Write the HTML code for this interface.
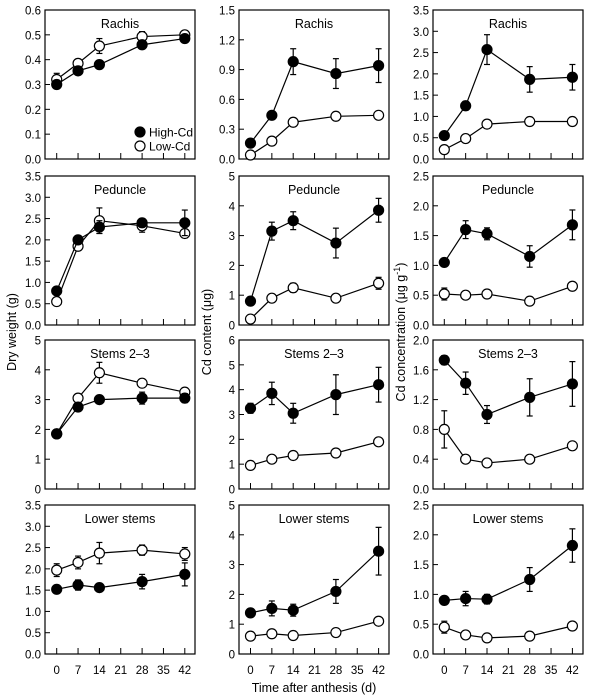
<!DOCTYPE html>
<html><head><meta charset="utf-8"><style>
body{margin:0;background:#fff}
svg{display:block;font-family:"Liberation Sans",Arial,sans-serif}
</style></head><body>
<svg id="c" width="600" height="700" viewBox="0 0 600 700" xmlns="http://www.w3.org/2000/svg"></svg>
<script>
const days=[0,7,14,28,42];
const xTicks=[0,7,14,21,28,35,42];
const panelTitles=[["Rachis","Rachis","Rachis"],["Peduncle","Peduncle","Peduncle"],["Stems 2–3","Stems 2–3","Stems 2–3"],["Lower stems","Lower stems","Lower stems"]];
const yMax=[[0.6,1.5,3.5],[3.5,5,2.5],[5,6,2.0],[3.5,5,2.5]];
const yStep=[[0.1,0.3,0.5],[0.5,1,0.5],[1,1,0.4],[0.5,1,0.5]];
const yDec=[[1,1,1],[1,0,1],[0,0,1],[1,0,1]];
// High-Cd means / errors
const highVals=[
 [[.30,.355,.38,.46,.485],[.16,.44,.98,.86,.94],[.55,1.25,2.57,1.87,1.92]],
 [[.8,2.0,2.3,2.4,2.4],[.8,3.15,3.5,2.75,3.85],[1.05,1.6,1.53,1.15,1.68]],
 [[1.85,2.75,3.0,3.05,3.05],[3.25,3.85,3.05,3.8,4.2],[1.73,1.42,1.0,1.23,1.41]],
 [[1.52,1.62,1.56,1.7,1.87],[1.38,1.53,1.47,2.1,3.45],[.9,.93,.92,1.25,1.82]]];
const highErr=[
 [[.01,.01,.01,.015,.01],[.02,.04,.13,.15,.17],[.05,.1,.35,.3,.3]],
 [[.05,.05,.15,.1,.3],[.05,.3,.3,.5,.4],[.03,.15,.1,.18,.25]],
 [[.1,.1,.05,.2,.15],[.2,.45,.4,.8,.7],[.06,.15,.12,.25,.3]],
 [[.05,.12,.08,.17,.27],[.1,.25,.2,.4,.8],[.04,.12,.08,.2,.28]]];
const lowVals=[
 [[.32,.385,.455,.493,.50],[.04,.18,.37,.43,.44],[.22,.48,.82,.88,.88]],
 [[.55,1.85,2.45,2.33,2.15],[.2,.9,1.25,.9,1.4],[.52,.5,.52,.4,.65]],
 [[1.85,3.05,3.9,3.55,3.25],[.95,1.2,1.35,1.45,1.9],[.8,.4,.35,.4,.58]],
 [[1.97,2.15,2.37,2.44,2.35],[.6,.68,.62,.72,1.1],[.45,.32,.27,.3,.47]]];
const lowErr=[
 [[.025,.01,.03,.02,.01],[.01,.01,.01,.03,.02],[.08,.03,.02,.06,.03]],
 [[.05,.05,.3,.15,.1],[.05,.05,.15,.05,.2],[.1,.05,.03,.03,.07]],
 [[.1,.1,.35,.1,.1],[.05,.05,.05,.15,.15],[.25,.03,.02,.04,.05]],
 [[.15,.15,.25,.12,.15],[.05,.08,.05,.05,.05],[.1,.04,.02,.02,.03]]];

const NS="http://www.w3.org/2000/svg";
const svg=document.getElementById('c');
function mk(t,a,p){const e=document.createElementNS(NS,t);for(const k in a)e.setAttribute(k,a[k]);(p||svg).appendChild(e);return e;}
const colL=[45,239,433], colW=150, col0=[56.7,250.5,444.3], pxDay=3.05;
const rowT=[10,176,340,505], rowH=149;
for(let r=0;r<4;r++)for(let c=0;c<3;c++){
 const g=mk('g',{});
 
 
 const L=colL[c],T=rowT[r],B=T+rowH;
 const xs=d=>col0[c]+d*pxDay;
 const ys=v=>B-v/yMax[r][c]*rowH;
 const fr=mk('rect',{x:L,y:T,width:colW,height:rowH,fill:'none',stroke:'#000','stroke-width':1.2},g);
 
 
 const n=Math.round(yMax[r][c]/yStep[r][c]);
 for(let i=0;i<=n;i++){const v=i*yStep[r][c],y=ys(v);
  mk('line',{x1:L,x2:L+5,y1:y,y2:y,stroke:'#000','stroke-width':1},g);
  const t=mk('text',{x:L-4,y:y+4.5,'text-anchor':'end','font-size':11.5,fill:'#000'},g);
  t.textContent=v.toFixed(yDec[r][c]);
  
  }
 xTicks.forEach(d=>{const x=xs(d);
  mk('line',{x1:x,x2:x,y1:B,y2:B-6,stroke:'#000','stroke-width':1},g);
  if(r==3){const t=mk('text',{x:x,y:B+20,'text-anchor':'middle','font-size':11.5},g);t.textContent=d;
   
   }});
 const tt=mk('text',{x:L+colW/2,y:T+18,'text-anchor':'middle','font-size':12.5},g);
 tt.textContent=panelTitles[r][c];
 
 
 [[lowVals,lowErr,'#fff','low'],[highVals,highErr,'#000','high']].forEach(([V,E,f,nm])=>{
  const vals=V[r][c],errs=E[r][c];
  const pl=mk('polyline',{points:days.map((d,i)=>xs(d)+','+ys(vals[i])).join(' '),fill:'none',stroke:'#000','stroke-width':1.2},g);
  
  
  days.forEach((d,i)=>{const x=xs(d),y1=ys(vals[i]+errs[i]),y2=ys(vals[i]-errs[i]);
   mk('line',{x1:x,x2:x,y1:y1,y2:y2,stroke:'#000','stroke-width':1.2},g);
   mk('line',{x1:x-3,x2:x+3,y1:y1,y2:y1,stroke:'#000','stroke-width':1.2},g);
   mk('line',{x1:x-3,x2:x+3,y1:y2,y2:y2,stroke:'#000','stroke-width':1.2},g);
   const p=mk('circle',{cx:x,cy:ys(vals[i]),r:5,fill:f,stroke:'#000','stroke-width':1.2},g);
   
   });
 });
}
// legend
const lg=mk('g',{});


[['High-Cd','#000',132],['Low-Cd','#fff',146]].forEach(([t,f,y])=>{
 mk('circle',{cx:140,cy:y,r:5,fill:f,stroke:'#000','stroke-width':1.2},lg);
 const e=mk('text',{x:149,y:y+4.5,'font-size':12},lg);e.textContent=t;
 
 });
function rot(x,y,html,name){const t=mk('text',{x:0,y:0,transform:`translate(${x},${y}) rotate(-90)`,'text-anchor':'middle','font-size':12.5});t.innerHTML=html;
 
 }
rot(16,332,'Dry weight (g)','y-axis-title-dry-weight');
rot(211,332,'Cd content (μg)','y-axis-title-cd-content');
rot(405,332,'Cd concentration (μg g<tspan dy="-5" font-size="9">-1</tspan><tspan dy="5">)</tspan>','y-axis-title-cd-concentration');
const xt=mk('text',{x:314,y:692,'text-anchor':'middle','font-size':12.5});xt.textContent='Time after anthesis (d)';


</script>
</body></html>
